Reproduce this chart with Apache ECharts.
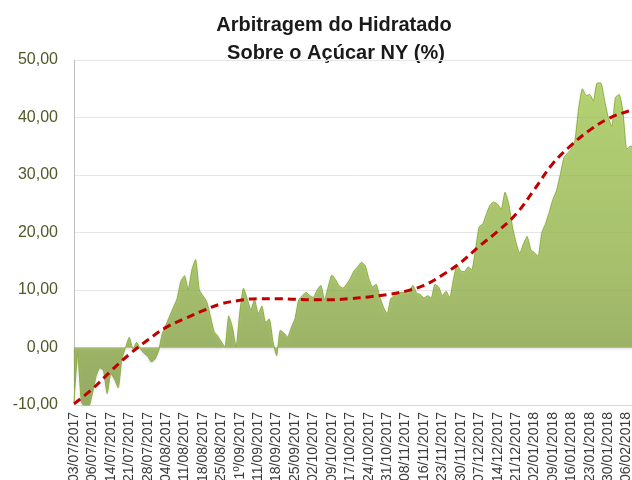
<!DOCTYPE html>
<html>
<head>
<meta charset="utf-8">
<script src="https://cdn.jsdelivr.net/npm/echarts@6/dist/echarts.min.js"></script>
<style>
html,body{margin:0;padding:0;width:632px;height:480px;overflow:hidden;background:#fff;}
#chart{width:700px;height:480px;}
</style>
</head>
<body>
<div id="chart"></div>
<script>
var titleLines = ["Arbitragem do Hidratado", "Sobre o Açúcar NY (%)"];

var tickLabels = ["03/07/2017","06/07/2017","14/07/2017","21/07/2017","28/07/2017","04/08/2017",
  "11/08/2017","18/08/2017","25/08/2017","1º/09/2017","11/09/2017","18/09/2017","25/09/2017",
  "02/10/2017","09/10/2017","17/10/2017","24/10/2017","31/10/2017","08/11/2017","16/11/2017",
  "23/11/2017","30/11/2017","07/12/2017","14/12/2017","21/12/2017","02/01/2018","09/01/2018",
  "16/01/2018","23/01/2018","30/01/2018","06/02/2018",""];

var arbitragem = [
  -9.6,-1,-9.5,-10.3,-10.3,-8,-5,-3.5,-4,-8,
  -4.5,-5.5,-7,-2,0,1.8,-0.3,0.9,-0.2,-1,
  -1.5,-2.5,-2,-0.5,2.5,4,5.5,7,8.5,11.5,
  12.5,10,13.5,15.3,10,9,8,5.5,2.8,2,
  1,0,5.5,3.5,0,6,10.3,8.5,6.5,8.3,
  5.8,7.2,4.3,5,1,-1.4,3,2.5,1.8,3.5,
  5,8.3,9,9.6,9,8.7,10,10.8,8.2,10.5,
  12.6,11.8,10.7,10.3,11,12,13.3,14,14.8,14.3,
  12,10.5,11,8.8,7,5.8,8.5,9,9.4,9.6,
  9.6,9.8,10.8,9.5,9.2,8.6,9,8.6,11,10.5,
  9,9.8,8.6,11.8,14.4,13.3,13.2,14,13.5,17,
  21,21.5,23.3,24.8,25.3,24.9,24,27,25,21,
  18.2,16.3,18,19.3,17,16.5,15.8,20,21.5,23.5,
  25.7,27.3,30,33,33.8,34.5,36,41.5,45,43.8,
  44,42.8,46,46,43,40,38.4,43.5,44,41,
  34.5,35,35,34,33,34
];

var tendencia = [-9.8,-7.2,-4.1,-1.2,1.3,3.5,5.0,6.4,7.6,8.2,8.5,8.5,8.4,8.3,8.3,8.5,
  8.8,9.2,9.8,10.8,12.6,14.8,17.6,20.2,23.2,27.5,32,35.2,37.8,39.8,41,41.8];

var chart = echarts.init(document.getElementById('chart'), null, {renderer:'canvas'});
var idx = arbitragem.map(function(_, i){ return String(i); });

chart.setOption({
  animation: false,
  backgroundColor: '#ffffff',
  graphic: [
    {type:'text', x:334, y:25, style:{text:titleLines[0], align:'center', verticalAlign:'middle',
      font:'bold 20px "Liberation Sans", Arial, sans-serif', fill:'#1a1a1a'}},
    {type:'text', x:336, y:53, style:{text:titleLines[1], align:'center', verticalAlign:'middle',
      font:'bold 20px "Liberation Sans", Arial, sans-serif', fill:'#1a1a1a'}}
  ],
  grid: {left:74, right:55, top:60, bottom:75, containLabel:false, outerBoundsMode:'none'},
  xAxis: [
    {type:'category', data:tickLabels, boundaryGap:false,
     axisLine:{show:true, onZero:false, lineStyle:{color:'#d9d9d9', width:1}},
     axisTick:{show:false},
     axisLabel:{interval:0, rotate:90, margin:7, color:'#3a3a3a',
       fontFamily:'"Liberation Sans", Arial, sans-serif', fontSize:14},
     splitLine:{show:false}},
    {type:'category', data:idx, boundaryGap:false, show:false}
  ],
  yAxis: {type:'value', min:-10, max:50, interval:10,
    axisLine:{show:true, lineStyle:{color:'#bfbfbf', width:1}},
    axisTick:{show:false},
    axisLabel:{margin:16, color:'#4f5a28', fontSize:16,
      fontFamily:'"Liberation Sans", Arial, sans-serif',
      formatter:function(v){ return v.toFixed(2).replace('.', ','); }},
    splitLine:{show:true, lineStyle:{color:'#e6e6e6', width:1}}
  },
  series: [
    {type:'line', xAxisIndex:1, data:arbitragem, symbol:'none', smooth:0.15,
     lineStyle:{color:'#8aae3c', width:1},
     areaStyle:{origin:0, color:new echarts.graphic.LinearGradient(0,0,0,1,[
        {offset:0, color:'#a6d04a'},{offset:0.6, color:'#92b640'},{offset:1, color:'#7a9834'}]),
        shadowColor:'rgba(0,0,0,0.25)', shadowBlur:3, shadowOffsetY:1},
     z:2},
    {type:'line', xAxisIndex:0, data:tendencia, symbol:'none', smooth:0.4,
     lineStyle:{color:'#c00000', width:3, type:[8,5]}, z:3}
  ]
});
</script>
</body>
</html>
